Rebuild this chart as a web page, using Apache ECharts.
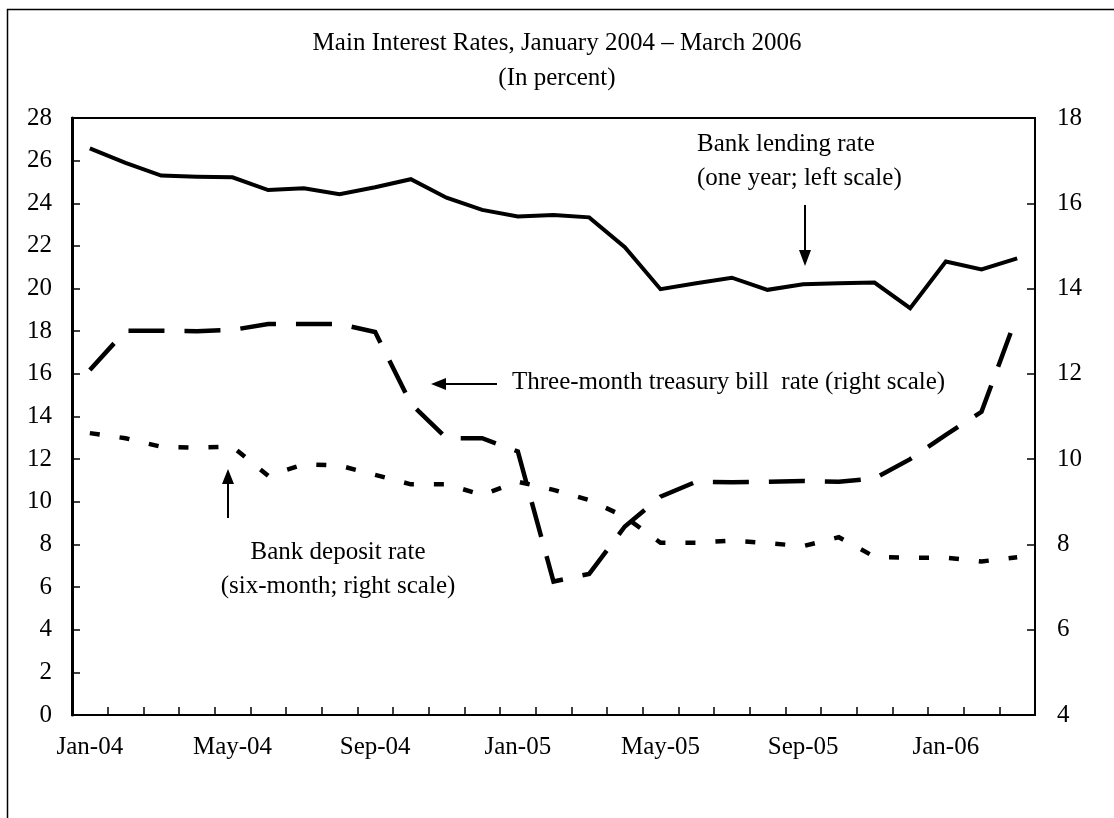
<!DOCTYPE html>
<html>
<head>
<meta charset="utf-8">
<script src="https://cdn.jsdelivr.net/npm/echarts@6/dist/echarts.min.js"></script>
<style>
html,body{margin:0;padding:0;background:#fff;}
#chart{width:1114px;height:818px;}
</style>
</head>
<body>
<div id="chart"></div>
<script>
const months = ['Jan-04','Feb-04','Mar-04','Apr-04','May-04','Jun-04','Jul-04','Aug-04','Sep-04','Oct-04','Nov-04','Dec-04',
  'Jan-05','Feb-05','Mar-05','Apr-05','May-05','Jun-05','Jul-05','Aug-05','Sep-05','Oct-05','Nov-05','Dec-05',
  'Jan-06','Feb-06','Mar-06'];
const lendingRate = [26.58,25.9,25.3,25.25,25.22,24.62,24.7,24.42,24.75,25.13,24.26,23.69,
  23.38,23.45,23.34,21.94,19.97,20.25,20.51,19.94,20.2,20.25,20.28,19.08,
  21.27,20.9,21.42];
const tbillRate = [12.09,13.01,13.01,13.0,13.03,13.17,13.17,13.17,12.98,11.3,10.49,10.49,
  10.18,7.13,7.31,8.42,9.12,9.47,9.46,9.47,9.49,9.47,9.55,10.0,
  10.57,11.11,13.38];
const depositRate = [10.61,10.49,10.29,10.27,10.29,9.61,9.88,9.85,9.63,9.41,9.41,9.16,
  9.47,9.28,9.04,8.65,8.04,8.04,8.09,8.03,7.96,8.17,7.71,7.69,
  7.69,7.6,7.7];
const titleText = 'Main Interest Rates, January 2004 \u2013 March 2006';
const subtitleText = '(In percent)';

const FONT = '"Liberation Serif", "Times New Roman", serif';
const FS = 25;
const chart = echarts.init(document.getElementById('chart'));

function txt(text, x, y, align) {
  return {type:'text', z:10, style:{text:text, x:x, y:y, font: FS + 'px ' + FONT, fill:'#000',
    textAlign: align || 'center', textVerticalAlign:'middle'}};
}
function ln(x1,y1,x2,y2){
  return {type:'line', z:10, shape:{x1:x1,y1:y1,x2:x2,y2:y2}, style:{stroke:'#000', lineWidth:2}};
}
function poly(points){
  return {type:'polygon', z:10, shape:{points:points}, style:{fill:'#000'}};
}

const axisText = {fontFamily: FONT, fontSize: FS, color:'#000'};

chart.setOption({
  animation:false,
  backgroundColor:'#fff',
  grid:{left:72, right:79, top:118, bottom:103, show:true, borderColor:'#000', borderWidth:2},
  xAxis:{
    type:'category', data:months, boundaryGap:true,
    axisLine:{show:true, lineStyle:{color:'#000', width:2}},
    axisTick:{show:true, inside:true, length:8, interval:0, lineStyle:{color:'#000', width:1.5}},
    axisLabel:Object.assign({interval:3, margin:20}, axisText),
    splitLine:{show:false}
  },
  yAxis:[
    {type:'value', min:0, max:28, interval:2, position:'left',
     axisLine:{show:true, lineStyle:{color:'#000', width:3}},
     axisTick:{show:true, inside:true, length:8, lineStyle:{color:'#000', width:1.5}},
     axisLabel:Object.assign({margin:20}, axisText),
     splitLine:{show:false}},
    {type:'value', min:4, max:18, interval:2, position:'right',
     axisLine:{show:true, lineStyle:{color:'#000', width:2}},
     axisTick:{show:true, inside:true, length:8, lineStyle:{color:'#000', width:1.5}},
     axisLabel:Object.assign({margin:22}, axisText),
     splitLine:{show:false}}
  ],
  series:[
    {name:'Bank lending rate', type:'line', yAxisIndex:0, data:lendingRate, symbol:'none',
     lineStyle:{color:'#000', width:4, join:'miter', cap:'butt'}},
    {name:'Three-month treasury bill rate', type:'line', yAxisIndex:1, data:tbillRate, symbol:'none',
     lineStyle:{color:'#000', width:4.5, type:[36,20], join:'miter', cap:'butt'}},
    {name:'Bank deposit rate', type:'line', yAxisIndex:1, data:depositRate, symbol:'none',
     lineStyle:{color:'#000', width:4.5, type:[10,20], join:'miter', cap:'butt'}}
  ],
  graphic:[
    {type:'rect', z:0, shape:{x:7.5, y:9.5, width:1300, height:1000}, style:{fill:'none', stroke:'#000', lineWidth:1.5}},
    txt(titleText, 557, 43),
    txt(subtitleText, 557, 78),
    txt('Bank lending rate', 697, 144, 'left'),
    txt('(one year; left scale)', 697, 178, 'left'),
    ln(805, 205, 805, 252), poly([[799,250],[811,250],[805,266]]),
    txt('Three-month treasury bill  rate (right scale)', 512, 382, 'left'),
    ln(497, 384, 444, 384), poly([[446,378],[446,390],[431,384]]),
    txt('Bank deposit rate', 338, 552),
    txt('(six-month; right scale)', 338, 586),
    ln(228, 518, 228, 482), poly([[222,484],[234,484],[228,469]])
  ]
});
</script>
</body>
</html>
